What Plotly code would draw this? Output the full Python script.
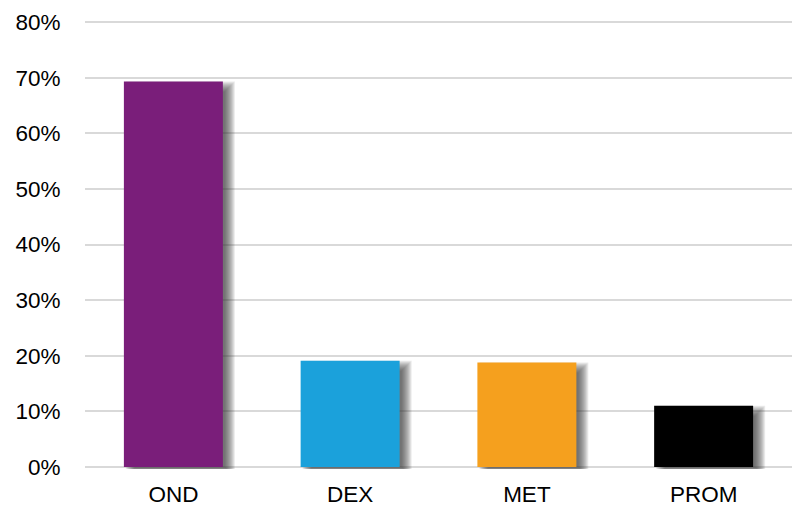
import plotly.graph_objects as go

categories = ["OND", "DEX", "MET", "PROM"]
values = [69.3, 19.1, 18.8, 11.0]
colors = ["#7A1E7A", "#1BA1DB", "#F5A01E", "#000000"]
y_ticks = [0, 10, 20, 30, 40, 50, 60, 70, 80]
y_tick_labels = ["0%", "10%", "20%", "30%", "40%", "50%", "60%", "70%", "80%"]

# geometry helpers (pixels -> axis units)
plot_w = 707.0
px_per_unit = 445.0 / 80.0
px_x = len(categories) / plot_w          # category units per px
px_y = 1.0 / px_per_unit                 # value units per px
bar_w = 0.56
m_top, m_bot = 20, 38
pad_top = (22 - m_top) * px_y
pad_bot = ((507 - m_bot) - 467) * px_y

fig = go.Figure()

# soft drop shadow built from stacked translucent bars
dx, dy, blur = 7, 5, 5
n_layers = 2 * blur + 1
for i in range(n_layers):
    grow = blur - i
    w = bar_w + 2 * grow * px_x
    off = -bar_w / 2 + (dx - grow) * px_x
    base = -(dy + grow) * px_y
    tops = [v - (dy - grow) * px_y for v in values]
    fig.add_trace(go.Bar(
        x=categories,
        y=[t - base for t in tops],
        base=[base] * len(values),
        width=[w] * len(values),
        offset=[off] * len(values),
        marker=dict(color="rgba(60,60,60,0.10)", line=dict(width=0)),
        cliponaxis=False,
        hoverinfo="skip",
        showlegend=False,
    ))

fig.add_trace(go.Bar(
    x=categories,
    y=values,
    width=[bar_w] * len(values),
    offset=[-bar_w / 2] * len(values),
    marker=dict(color=colors, line=dict(width=0)),
    showlegend=False,
))

fig.update_layout(
    width=792, height=507,
    margin=dict(l=85, r=0, t=m_top, b=m_bot),
    paper_bgcolor="white", plot_bgcolor="white",
    barmode="overlay",
    font=dict(family="Liberation Sans, Arial, sans-serif", size=22.5, color="#000000"),
    xaxis=dict(
        showgrid=False, showline=False, zeroline=False,
        ticks="outside", ticklen=5, tickcolor="rgba(0,0,0,0)",
        range=[-0.5, 3.5], automargin=False,
    ),
    yaxis=dict(
        range=[-pad_bot, 80 + pad_top], tickvals=y_ticks, ticktext=y_tick_labels,
        showgrid=True, gridcolor="#D9D9D9", gridwidth=2,
        zeroline=False, showline=False, automargin=False,
        ticks="outside", ticklen=19, tickcolor="rgba(0,0,0,0)",
    ),
)

fig.write_html("out.html")
